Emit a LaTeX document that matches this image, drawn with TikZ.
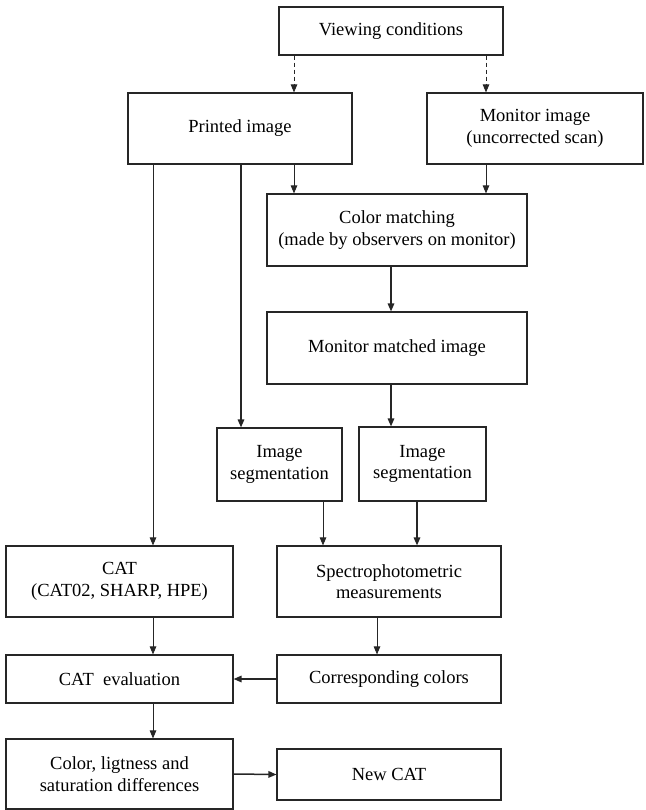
\documentclass[tikz,border=0pt]{standalone}
\usepackage{fontspec}
\setmainfont{Liberation Serif}
\usetikzlibrary{arrows.meta}

\begin{document}
\begin{tikzpicture}[
  x=1pt,y=-1pt,
  every node/.style={font=\fontsize{18.5}{21.5}\selectfont},
  blk/.style={draw=black!85,line width=1.1pt,align=center,inner sep=0pt},
  ar/.style ={-{Triangle[length=8pt,width=6.5pt]},line width=0.9pt,black!85},
  arb/.style={-{Triangle[length=8pt,width=6.5pt]},line width=1.5pt,black!85},
  ard/.style={-{Triangle[length=8pt,width=6.5pt]},line width=0.9pt,black!85,
              dash pattern=on 4pt off 3pt}]

  \useasboundingbox (0,0) rectangle (645,810);

  % ===== TOP: viewing conditions and the two images =====
  \node[blk,minimum width=224pt,minimum height=48pt] (view)    at (391, 31)
    {Viewing conditions};
  \node[blk,minimum width=224pt,minimum height=71pt] (printed) at (240,128.5)
    {Printed image};
  \node[blk,minimum width=216pt,minimum height=71pt] (monitor) at (535,128.5)
    {Monitor image\\(uncorrected scan)};

  % ===== MIDDLE: matching on the monitor =====
  \node[blk,minimum width=260pt,minimum height=72pt] (match)   at (397,230)
    {Color matching\\(made by observers on monitor)};
  \node[blk,minimum width=260pt,minimum height=72pt] (matched) at (397,348)
    {Monitor matched image};
  \node[blk,minimum width=125pt,minimum height=73pt] (segl)    at (279.5,464.5)
    {Image\\segmentation};
  \node[blk,minimum width=127pt,minimum height=74pt] (segr)    at (422.5,464)
    {Image\\segmentation};

  % ===== BOTTOM: CAT column (left) and measurement column (right) =====
  \node[blk,minimum width=227pt,minimum height=71pt] (cat)     at (119.5,581.5)
    {CAT\\(CAT02, SHARP, HPE)};
  \node[blk,minimum width=224pt,minimum height=71pt] (spectro) at (389,581.5)
    {Spectrophotometric\\measurements};
  \node[blk,minimum width=227pt,minimum height=48pt] (eval)    at (119.5,679)
    {CAT\enspace evaluation};
  \node[blk,minimum width=224pt,minimum height=48pt] (corr)    at (389,679)
    {Corresponding colors};
  \node[blk,minimum width=227pt,minimum height=70pt] (diff)    at (119.5,774)
    {Color, ligtness and\\saturation differences};
  \node[blk,minimum width=224pt,minimum height=51pt] (newcat)  at (389,774.5)
    {New CAT};

  % vertical lanes of the connectors
  \coordinate (la) at (153,0);
  \coordinate (lb) at (241,0);
  \coordinate (lc) at (294,0);
  \coordinate (ld) at (486,0);
  \coordinate (le) at (391,0);
  \coordinate (lf) at (323,0);
  \coordinate (lg) at (417,0);
  \coordinate (lh) at (377,0);

  % ===== ARROWS =====
  % viewing conditions -> images (dashed)
  \draw[ard] (view.south -| lc) -- (printed.north -| lc);
  \draw[ard] (view.south -| ld) -- (monitor.north -| ld);
  % both images feed the colour matching
  \draw[ar]  (printed.south -| lc) -- (match.north -| lc);
  \draw[ar]  (monitor.south -| ld) -- (match.north -| ld);
  % printed image down to CAT and to the left segmentation
  \draw[ar]  (printed.south -| la) -- (cat.north -| la);
  \draw[arb] (printed.south -| lb) -- (segl.north -| lb);
  % matching chain
  \draw[arb] (match.south -| le)   -- (matched.north -| le);
  \draw[arb] (matched.south -| le) -- (segr.north -| le);
  \draw[ar]  (segl.south -| lf)    -- (spectro.north -| lf);
  \draw[arb] (segr.south -| lg)    -- (spectro.north -| lg);
  \draw[ar]  (spectro.south -| lh) -- (corr.north -| lh);
  % CAT column
  \draw[ar]  (cat.south -| la)  -- (eval.north -| la);
  \draw[arb] (corr.west)        -- (eval.east);
  \draw[ar]  (eval.south -| la) -- (diff.north -| la);
  \draw[arb] (diff.east)        -- (newcat.west);

\end{tikzpicture}
\end{document}
